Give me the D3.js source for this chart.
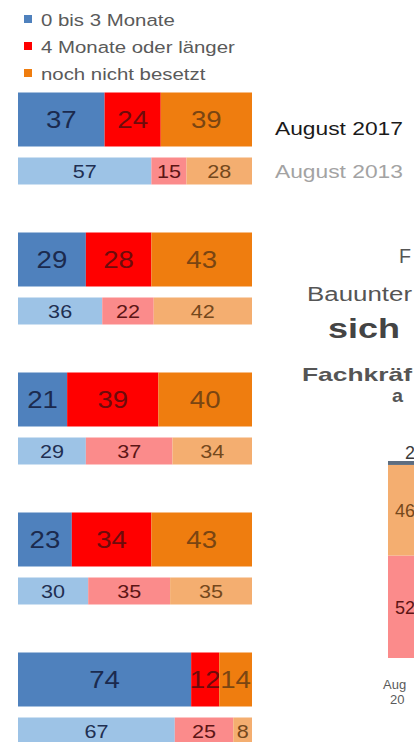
<!DOCTYPE html>
<html lang="de">
<head>
<meta charset="UTF-8">
<title>Besetzung offener Stellen</title>
<script src="https://d3js.org/d3.v7.min.js"></script>
<style>
  body { margin: 0; background: #ffffff; font-family: "Liberation Sans", Arial, sans-serif; }
  svg { display: block; }
</style>
</head>
<body>
<div id="chart"></div>
<script>
// data
const seriesNames = ["0 bis 3 Monate", "4 Monate oder länger", "noch nicht besetzt"];
const periods = ["August 2017", "August 2013"];
const rows2017 = [[37, 24, 39], [29, 28, 43], [21, 39, 40], [23, 34, 43], [74, 12, 14]];
const rows2013 = [[57, 15, 28], [36, 22, 42], [29, 37, 34], [30, 35, 35], [67, 25, 8]];
// the column cut off at the right edge (bottom to top)
const columnValues = [52, 46, 2];
const columnSeries = [1, 2, 0];
const columnLabel = ["Aug", "20"];
// title block, only the part that is inside the picture
const titleLines = ["F", "Bauunter", "sich", "Fachkräf", "a"];

const width = 414, height = 742;
const sx = 1.2; // the source picture is stretched sideways

const darkColors = ["#4f81bd", "#ff0000", "#ef7d0f"];
const lightColors = ["#9dc3e6", "#fb8b8b", "#f4ae70"];
const darkText = ["#1b2a4e", "#6e0b0b", "#7a4512"];
const lightText = ["#1f2f52", "#5c1515", "#74481c"];

const svg = d3.select("#chart").append("svg")
    .attr("width", width)
    .attr("height", height);

function label(g, txt, x, y, size, color, anchor, weight) {
    return g.append("text")
        .attr("transform", `translate(${x},${y}) scale(${sx},1)`)
        .attr("text-anchor", anchor || "start")
        .attr("font-size", size)
        .attr("font-weight", weight || "normal")
        .attr("fill", color)
        .text(txt);
}

// legend
const legend = svg.append("g");
seriesNames.forEach((s, i) => {
    const by = 26 + i * 27;
    legend.append("rect")
        .attr("x", 24).attr("y", by - 11)
        .attr("width", 8).attr("height", 8)
        .attr("fill", darkColors[i]);
    label(legend, s, 41, by, 17, "#5a5a5a");
});

// horizontal bars
const x = d3.scaleLinear().domain([0, 100]).range([18, 252]);
const y = d3.scaleBand().domain(d3.range(rows2017.length)).range([92.5, 92.5 + 140 * rows2017.length]);
const darkH = 54, lightTop = 65, lightH = 27;

function stackRow(vals) {
    let acc = 0;
    return vals.map((v, i) => { const s = { i, v, x0: acc, x1: acc + v }; acc += v; return s; });
}

const bars = svg.append("g");
rows2017.forEach((row, r) => {
    const g = bars.append("g");
    const top = y(r);
    stackRow(row).forEach(s => {
        g.append("rect")
            .attr("x", x(s.x0)).attr("y", top)
            .attr("width", x(s.x1) - x(s.x0)).attr("height", darkH)
            .attr("fill", darkColors[s.i]);
        label(g, s.v, (x(s.x0) + x(s.x1)) / 2, top + darkH / 2 + 8, 23, darkText[s.i], "middle");
    });
    stackRow(rows2013[r]).forEach(s => {
        g.append("rect")
            .attr("x", x(s.x0)).attr("y", top + lightTop)
            .attr("width", x(s.x1) - x(s.x0)).attr("height", lightH)
            .attr("fill", lightColors[s.i]);
        label(g, s.v, (x(s.x0) + x(s.x1)) / 2, top + lightTop + lightH / 2 + 6.5, 18, lightText[s.i], "middle");
    });
});

// period labels next to the first pair
label(svg, periods[0], 275, 135, 19, "#1a1a1a");
label(svg, periods[1], 275, 178, 19, "#a3a3a3");

// title block, squeezed to the widths seen in the picture
const title = svg.append("g");
const tl = [
    { x: 399, y: 263, size: 20, w: 12, weight: "normal", color: "#555555" },
    { x: 307, y: 301, size: 20, w: 105, weight: "normal", color: "#555555" },
    { x: 328, y: 338, size: 28, w: 72, weight: "bold", color: "#444444" },
    { x: 302, y: 381, size: 19, w: 110, weight: "bold", color: "#555555" },
    { x: 392, y: 402, size: 19, w: 11, weight: "bold", color: "#555555" }
];
titleLines.forEach((t, i) => {
    const p = tl[i];
    title.append("text")
        .attr("x", p.x).attr("y", p.y)
        .attr("font-size", p.size)
        .attr("font-weight", p.weight)
        .attr("fill", p.color)
        .attr("textLength", p.w)
        .attr("lengthAdjust", "spacingAndGlyphs")
        .text(t);
});

// vertical stacked column, cut off at the right edge
const yc = d3.scaleLinear().domain([0, 100]).range([658, 461]);
const colX = 388, colW = 34;
const col = svg.append("g");
let acc = 0;
columnValues.forEach((v, k) => {
    const i = columnSeries[k];
    const y0 = yc(acc), y1 = yc(acc + v);
    col.append("rect")
        .attr("x", colX).attr("y", y1)
        .attr("width", colW).attr("height", y0 - y1)
        .attr("fill", i === 0 ? "#5d6d80" : lightColors[i]);
    if (v > 5) {
        col.append("text")
            .attr("x", 395).attr("y", (y0 + y1) / 2 + 7)
            .attr("font-size", 18).attr("fill", lightText[i])
            .text(v);
    } else {
        col.append("text")
            .attr("x", 405).attr("y", y1 - 2)
            .attr("font-size", 18).attr("fill", "#3a3a3a")
            .text(v);
    }
    acc += v;
});
col.append("text").attr("x", 383).attr("y", 689)
    .attr("font-size", 13).attr("fill", "#5a5a5a").text(columnLabel[0]);
col.append("text").attr("x", 390).attr("y", 704)
    .attr("font-size", 13).attr("fill", "#5a5a5a").text(columnLabel[1]);
</script>
</body>
</html>
